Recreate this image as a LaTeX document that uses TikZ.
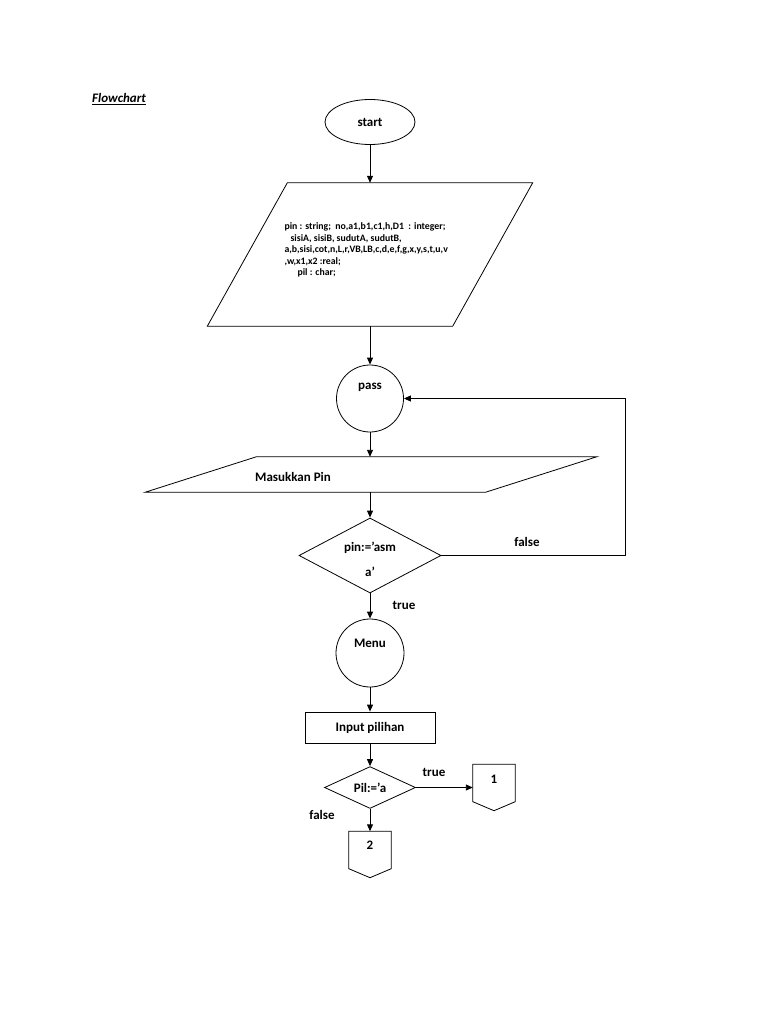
\documentclass[tikz,border=0pt]{standalone}
\usepackage{fontspec}
\setmainfont{Carlito}
\usetikzlibrary{shapes.geometric,arrows.meta}

\begin{document}
\begin{tikzpicture}[x=1pt,y=-1pt,
  font=\bfseries\fontsize{13}{15}\selectfont,
  box/.style={draw,line width=0.8pt,inner sep=0pt},
  arr/.style={line width=0.9pt,-{Triangle[length=7pt,width=6pt]}},
  pentbox/.style={minimum width=42pt,minimum height=46pt,inner sep=0pt}]
\useasboundingbox (0,0) rectangle (768,1024);

\node[font=\bfseries\itshape\fontsize{13}{15}\selectfont] (title) at (119,99) {\underline{Flowchart}};

% shapes
\node[box,ellipse,minimum width=90pt,minimum height=45pt] (start) at (370,122) {start};
\node[inner sep=0pt,minimum width=325pt,minimum height=143pt] (decl) at (370,254.5) {};
\draw[line width=0.8pt] ([xshift=80pt]decl.north west) -- (decl.north east) -- ([xshift=-80pt]decl.south east) -- (decl.south west) -- cycle;
\node[box,circle,minimum size=67pt] (pass) at (370,398.5) {};
\node[inner sep=0pt,minimum width=451pt,minimum height=35pt] (pin) at (371,474.5) {};
\draw[line width=0.8pt] ([xshift=111pt]pin.north west) -- (pin.north east) -- ([xshift=-111pt]pin.south east) -- (pin.south west) -- cycle;
\node[box,diamond,minimum width=142pt,minimum height=75pt] (chk) at (370,555.5) {};
\node[box,circle,minimum size=68pt] (menu) at (370,653) {};
\node[box,rectangle,minimum width=130pt,minimum height=31pt] (inp) at (370,727.5) {Input pilihan};
\node[box,diamond,minimum width=91pt,minimum height=39pt] (pil) at (370,787.5) {Pil:=’a};
\node[pentbox] (c1) at (494,787.5) {};
\node[pentbox] (c2) at (370,854.5) {};
\draw[line width=0.8pt] (c1.north west) -- (c1.north east) -- ([yshift=9pt]c1.south east) -- (c1.south) -- ([yshift=9pt]c1.south west) -- cycle;
\draw[line width=0.8pt] (c2.north west) -- (c2.north east) -- ([yshift=9pt]c2.south east) -- (c2.south) -- ([yshift=9pt]c2.south west) -- cycle;

% texts
\node[align=left,anchor=north west,font=\bfseries\fontsize{9.8}{11.6}\selectfont] (decltxt) at (281,219)
  {pin : string;~ no,a1,b1,c1,h,D1~ : integer;\\
   \hspace*{6pt}sisiA, sisiB, sudutA, sudutB,\\
   a,b,sisi,cot,n,L,r,VB,LB,c,d,e,f,g,x,y,s,t,u,v\\
   ,w,x1,x2 :real;\\
   \hspace*{13pt}pil : char;};
\node (passtxt) at (370,387) {pass};
\node (pintxt) at (293,477) {Masukkan Pin};
\node[align=center,font=\bfseries\fontsize{13}{25}\selectfont] (chktxt) at (370,559.5) {pin:=’asm\\a’};
\node (menutxt) at (370,643) {Menu};
\node (c1txt) at (494,779) {1};
\node (c2txt) at (370,845) {2};
\node (f1) at (527,542) {false};
\node (t1) at (404,605) {true};
\node (t2) at (434,772) {true};
\node (f2) at (322,815) {false};

% arrows
\coordinate (loopx) at (625,0);
\draw[arr] (start) -- (decl);
\draw[arr] (decl) -- (pass);
\draw[arr] (pass) -- (pass |- pin.north);
\draw[arr] (chk |- pin.south) -- (chk);
\draw[arr] (chk.east) -- (chk.east -| loopx) -- (pass.east -| loopx) -- (pass.east);
\draw[arr] (chk) -- (menu);
\draw[arr] (menu) -- (inp);
\draw[arr] (inp) -- (pil);
\draw[arr] (pil) -- (c1);
\draw[arr] (pil) -- (c2);

\end{tikzpicture}
\end{document}
